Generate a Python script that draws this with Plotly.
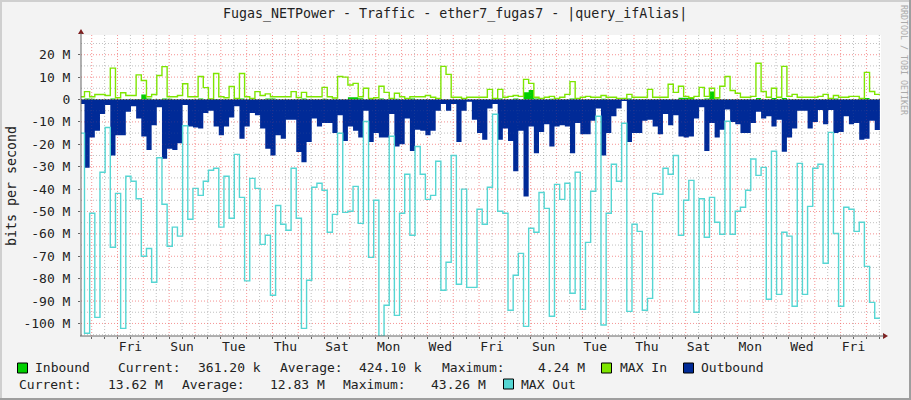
import plotly.graph_objects as go

# values in Mbit/s, one per 4.8 h step
inbound = [0.1, 0.4, 0.3, 0.1, 0.1, 0.1, 0.4, 0.1, 0.1, 0.1, 0.1, 0.2, 2.2, 0.5, 0.1, 0.1, 0.4, 0.3, 0.1, 0.1,
           0.1, 0.1, 0.1, 0.5, 0.1, 0.1, 0.2, 0.1, 0.1, 0.1, 0.1, 0.4, 0.1, 0.1, 0.1, 0.1, 0.5, 0.5, 0.1, 0.1,
           0.1, 0.1, 0.1, 0.4, 0.1, 0.1, 0.1, 0.3, 0.1, 0.1, 0.1, 0.1, 1.0, 1.0, 0.6, 0.1, 0.5, 0.1, 0.5, 0.1,
           0.1, 0.3, 0.1, 0.1, 0.4, 0.1, 0.1, 0.1, 0.1, 0.1, 0.1, 0.1, 0.1, 0.1, 0.1, 0.1, 0.1, 0.1, 0.1, 0.1,
           0.1, 0.4, 0.1, 0.1, 0.4, 0.1, 3.2, 4.24, 0.5, 0.1, 0.1, 0.3, 0.1, 0.1, 0.1, 0.5, 0.1, 0.1, 0.1, 0.1,
           0.1, 0.3, 0.1, 0.1, 0.1, 0.1, 0.4, 0.1, 0.1, 0.1, 0.1, 0.1, 0.1, 0.1, 0.1, 0.1, 0.8, 0.8, 0.8, 0.1,
           0.1, 0.5, 3.6, 0.5, 0.1, 0.1, 0.1, 0.1, 0.1, 0.1, 0.1, 0.7, 0.1, 0.1, 0.7, 0.1, 0.7, 0.1, 0.1, 0.1,
           0.1, 0.1, 0.1, 0.1, 0.1, 0.1, 0.5, 0.1, 0.1, 0.1, 0.1, 0.7, 0.7, 0.1, 0.1]

max_in = [1.2, 3.5, 1.2, 2.2, 2.2, 1.8, 14, 0.8, 3, 1.8, 1.8, 11, 8.5, 1.2, 2.2, 10.7, 14.7, 1.2, 1.2, 1.8,
          7, 1.2, 1.2, 10.3, 5.3, 0.3, 11.6, 1.2, 0.8, 5.8, 0.5, 11.6, 1.2, 0.5, 3.5, 1.8, 2.5, 1.2, 1.2, 1.2,
          1.2, 3.5, 0.9, 3.2, 1.2, 1.2, 1.2, 5.4, 1.2, 0.7, 10.3, 10, 6.5, 7.2, 1.2, 5, 0.5, 0.8, 5.9, 3.2,
          0.5, 2.8, 1.2, 0.5, 1.2, 1.2, 1.2, 1.8, 1, 0.5, 14.8, 11.2, 1, 1, 0.5, 1, 1, 1, 1, 4.5,
          0.5, 4.5, 1, 1.4, 1.8, 1.4, 9, 7.2, 1, 0.5, 1, 1.4, 0.5, 1, 2.3, 8, 0.5, 1, 1.4, 1,
          1, 1.8, 1, 1, 0.5, 0.5, 2.3, 1, 1, 1, 4.5, 1, 1, 1, 6.8, 3.2, 5.9, 1.4, 0.8, 1.4,
          5.4, 1.4, 5, 0.8, 5.9, 10.3, 4, 2.8, 1, 1, 1.4, 16.2, 3.6, 1, 5, 1, 14.8, 1.4, 2.3, 1,
          1, 1, 1, 1.4, 2.3, 0.5, 1.8, 1, 1, 1.4, 1.4, 0.5, 12.1, 3.6, 2.3]

outbound = [-2, -30.5, -17, -14, -6.5, -2.5, -25, -16, -16, -5.5, -3, -8.5, -16.5, -22.5, -11.5, -3.5, -26.5, -22, -22.5, -19.5,
            -2.5, -12, -12.5, -13, -6, -5, -12, -16, -12, -8, -3, -17.5, -12, -6, -7, -13, -22, -25, -16, -17.5,
            -9, -9, -23.4, -28, -19, -8.5, -12, -10.5, -10.5, -15, -7, -18.5, -12, -14, -17, -5, -19, -15, -17, -17,
            -6.5, -21, -20, -8.5, -23, -13.5, -14, -16, -14, -5, -2, -5, -2, -19, -5, -1, -9, -15, -18, -4,
            -2, -18, -13, -18.5, -32, -14, -43.26, -12, -24, -14.5, -11, -21, -12, -11.5, -12, -24, -10.5, -15.5, -15.5, -9.5,
            -4, -25, -15, -7.5, -4, -0.7, -19, -15, -15, -9.5, -9, -12, -15.5, -6.5, -11.5, -7, -16.5, -17, -16.5, -8.5,
            -3.5, -23, -10.5, -17, -13.5, -4.5, -10, -11, -15, -15, -10.5, -5.5, -8.5, -7.5, -12, -9, -23.3, -17, -13, -5,
            -5, -13, -10, -4.7, -11, -4.7, -15, -14.5, -7.5, -11, -10.5, -18, -17.5, -9.5, -13.62]

max_out = [-15, -104.4, -50.8, -97.3, -32.5, -12.5, -66, -41.9, -102.2, -34.3, -36.5, -44.3, -70, -66.5, -81.6, -26, -46.8, -65.5, -57, -61,
           -11.7, -53.5, -39.7, -42.8, -36.5, -31.6, -30.7, -57, -34.3, -53, -24.5, -43.7, -81, -35.2, -39.7, -64.7, -60.6, -87.4, -47.3, -55.7,
           -58.4, -30.7, -53, -102.2, -80.7, -39.2, -37.4, -40.5, -59.3, -51.3, -15.1, -50.4, -49.9, -38.8, -55.3, -9.8, -70.5, -45, -105.7, -91.9,
           -16.4, -96.4, -50.8, -33.4, -60.6, -21, -33.4, -44.6, -42.8, -27.6, -85.2, -72.7, -25, -82.5, -40, -83.9, -83.9, -49, -55.7, -39.2,
           -6.6, -49.9, -50.8, -94.1, -78.5, -68.7, -101.3, -57.5, -59.3, -41.5, -48.6, -96.8, -37.9, -44.6, -37.4, -86.5, -32.5, -93.7, -63.8, -41,
           -7.5, -100.7, -50.8, -28.9, -36.5, -10.6, -94.6, -55.7, -58.9, -94.1, -88.8, -41.9, -42.3, -30.7, -33.4, -25, -60.6, -45, -36.1, -95,
           -44.3, -61.5, -43.7, -54.8, -60.2, -9.7, -60.2, -49.9, -48.1, -40.5, -26.6, -33.9, -30.3, -89.2, -23.1, -87, -59.3, -61, -92.3, -28.5,
           -87, -47.7, -30.7, -28.9, -73.1, -14.7, -59.8, -92.3, -48.1, -49, -58.9, -54.8, -74.5, -90.6, -97.7]

y_ticks = [20, 10, 0, -10, -20, -30, -40, -50, -60, -70, -80, -90, -100]
y_labels = ["20 M", "10 M", "0", "-10 M", "-20 M", "-30 M", "-40 M", "-50 M", "-60 M", "-70 M", "-80 M", "-90 M", "-100 M"]
day_names = ["Fri", "Sun", "Tue", "Thu", "Sat", "Mon", "Wed", "Fri", "Sun", "Tue", "Thu", "Sat", "Mon", "Wed", "Fri"]

legend_row1 = [("Inbound", 34), ("Current:", 117), ("361.20 k", 197), ("Average:", 279), ("424.10 k", 358.5),
               ("Maximum:", 441), ("4.24 M", 537), ("MAX In", 619), ("Outbound", 700)]
legend_row2 = [("Current:", 18), ("13.62 M", 107), ("Average:", 181), ("12.83 M", 269),
               ("Maximum:", 342.5), ("43.26 M", 430.5), ("MAX Out", 520)]

GREEN = "#00CF00"
LIME = "#7EE600"
BLUE = "#002A97"
CYAN = "#55D6D3"
FONT = "DejaVu Sans Mono"
RED_GRID = "rgba(240,100,100,0.6)"
GREY_GRID = "rgba(150,150,150,0.5)"
FAINT_GRID = "rgba(240,100,100,0.16)"

# x is days since the first midnight on the graph
x = [-0.479 + 0.2 * i for i in range(len(max_in) + 1)]


def steps(vals):
    return vals + [vals[-1]]


def px(v):
    return (v - 81) / 800


def py(v):
    return (336 - v) / 301


def vline(d, col, layer):
    return dict(type="line", xref="x", yref="paper", x0=d, x1=d, y0=0, y1=1, layer=layer,
                line=dict(color=col, width=1, dash="1px,2px"))


def hline(v, col, layer):
    return dict(type="line", xref="paper", yref="y", x0=0, x1=1, y0=v, y1=v, layer=layer,
                line=dict(color=col, width=1, dash="1px,2px"))


fig = go.Figure()
fig.add_trace(go.Scatter(x=x, y=steps(inbound), mode="lines", fill="tozeroy", fillcolor=GREEN,
                         line=dict(color=GREEN, width=0, shape="hv"), name="Inbound"))
fig.add_trace(go.Scatter(x=x, y=steps(max_in), mode="lines", line=dict(color=LIME, width=1.4, shape="hv"), name="MAX In"))
fig.add_trace(go.Scatter(x=x, y=steps(outbound), mode="lines", fill="tozeroy", fillcolor=BLUE,
                         line=dict(color=BLUE, width=0, shape="hv"), name="Outbound"))
fig.add_trace(go.Scatter(x=x, y=steps(max_out), mode="lines", line=dict(color=CYAN, width=1.4, shape="hv"), name="MAX Out"))

shapes = []

# grid under the traces, and a faint copy on top so it shows through the blue
for d in range(0, 31):
    shapes.append(vline(d, RED_GRID, "below"))
    shapes.append(vline(d, FAINT_GRID, "above"))
for d in range(-1, 31):
    shapes.append(vline(d + 0.5, GREY_GRID, "below"))
    shapes.append(vline(d + 0.5, "rgba(150,150,150,0.12)", "above"))
for v in range(-105, 30, 5):
    if v % 10 == 0:
        shapes.append(hline(v, RED_GRID, "below"))
        shapes.append(hline(v, FAINT_GRID, "above"))
    else:
        shapes.append(hline(v, GREY_GRID, "below"))
        shapes.append(hline(v, "rgba(150,150,150,0.12)", "above"))
shapes.append(hline(0, "rgba(120,30,30,0.7)", "above"))

# axis arrows
shapes.append(dict(type="path", xref="paper", yref="paper", layer="above", fillcolor="#7F2020", line=dict(width=0),
                   path="M %f,%f L %f,%f L %f,%f Z" % (px(78), py(34), px(84), py(34), px(81), py(29))))
shapes.append(dict(type="path", xref="paper", yref="paper", layer="above", fillcolor="#7F2020", line=dict(width=0),
                   path="M %f,%f L %f,%f L %f,%f Z" % (px(883), py(333), px(883), py(339), px(888), py(336))))
shapes.append(dict(type="line", xref="paper", yref="paper", layer="above", x0=px(81), x1=px(81), y0=py(336), y1=py(33),
                   line=dict(color="#666666", width=1)))
shapes.append(dict(type="line", xref="paper", yref="paper", layer="above", x0=px(80), x1=px(884), y0=py(336), y1=py(336),
                   line=dict(color="#666666", width=1)))

# legend boxes
for left, col in [(17.5, GREEN), (601.5, LIME), (683.5, BLUE)]:
    shapes.append(dict(type="rect", xref="paper", yref="paper", x0=px(left), x1=px(left + 10), y0=py(373), y1=py(363),
                       fillcolor=col, line=dict(color="#000000", width=1)))
shapes.append(dict(type="rect", xref="paper", yref="paper", x0=px(503.5), x1=px(513.5), y0=py(389), y1=py(379),
                   fillcolor=CYAN, line=dict(color="#000000", width=1)))

# image frame
shapes.append(dict(type="rect", xref="paper", yref="paper", x0=px(0), x1=px(911), y0=py(2), y1=py(0),
                   fillcolor="#CFCFCF", line=dict(width=0)))
shapes.append(dict(type="rect", xref="paper", yref="paper", x0=px(0), x1=px(2), y0=py(400), y1=py(0),
                   fillcolor="#CFCFCF", line=dict(width=0)))
shapes.append(dict(type="rect", xref="paper", yref="paper", x0=px(0), x1=px(911), y0=py(400), y1=py(398),
                   fillcolor="#9E9E9E", line=dict(width=0)))
shapes.append(dict(type="rect", xref="paper", yref="paper", x0=px(909), x1=px(911), y0=py(400), y1=py(0),
                   fillcolor="#9E9E9E", line=dict(width=0)))

annotations = []
for txt, left in legend_row1:
    annotations.append(dict(text=txt, x=px(left - 1.5), y=py(367.5), xref="paper", yref="paper", xanchor="left", yanchor="middle",
                            showarrow=False, font=dict(family=FONT, size=13, color="#222222")))
for txt, left in legend_row2:
    annotations.append(dict(text=txt, x=px(left - 1.5), y=py(384), xref="paper", yref="paper", xanchor="left", yanchor="middle",
                            showarrow=False, font=dict(family=FONT, size=13, color="#222222")))
annotations.append(dict(text="Fugas_NETPower - Traffic - ether7_fugas7 - |query_ifAlias|", x=px(455), y=py(14),
                        xref="paper", yref="paper", xanchor="center", yanchor="middle", showarrow=False,
                        font=dict(family=FONT, size=13.3, color="#222222")))
annotations.append(dict(text="bits per second", x=px(11), y=py(186), xref="paper", yref="paper", textangle=-90,
                        xanchor="center", yanchor="middle", showarrow=False,
                        font=dict(family=FONT, size=13.3, color="#222222")))
annotations.append(dict(text="RRDTOOL / TOBI OETIKER", x=px(904), y=py(60), xref="paper", yref="paper", textangle=90,
                        xanchor="center", yanchor="middle", showarrow=False,
                        font=dict(family=FONT, size=8.3, color="#AAAAAA")))

# ticks every half day, only some noons get a name
tick_x = [d * 0.5 for d in range(0, 62)]
tick_text = [""] * len(tick_x)
for k, name in enumerate(day_names):
    tick_text[3 + 4 * k] = name

fig.update_layout(
    width=911, height=400,
    margin=dict(l=81, r=30, t=35, b=64),
    paper_bgcolor="#F3F3F3", plot_bgcolor="#FFFFFF",
    showlegend=False,
    shapes=shapes, annotations=annotations,
    font=dict(family=FONT, size=13, color="#222222"),
    xaxis=dict(range=[-0.414, 30.564], tickvals=tick_x, ticktext=tick_text, showgrid=False, zeroline=False,
               ticks="outside", ticklen=2, tickcolor="#666666", tickangle=0, ticklabelstandoff=-4),
    yaxis=dict(range=[-105.6, 28.8], tickvals=y_ticks, ticktext=y_labels, showgrid=False, zeroline=False,
               ticks="outside", ticklen=2, tickcolor="#666666", ticklabelstandoff=5),
)

fig.write_html("out.html", config=dict(displayModeBar=False), post_script="document.body.style.margin='0';")
